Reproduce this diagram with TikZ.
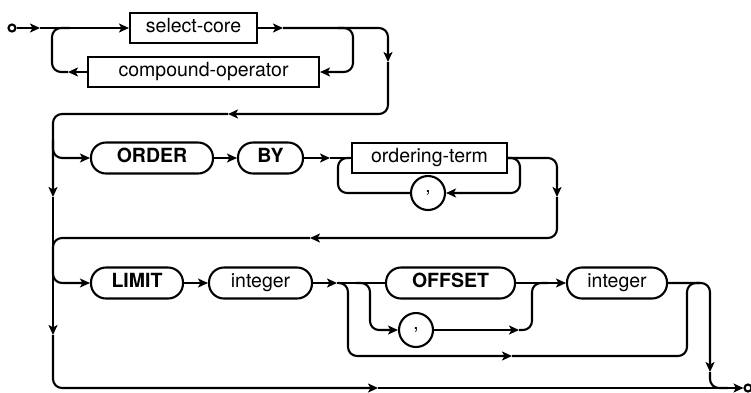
\documentclass[tikz,border=0pt]{standalone}
\usepackage{fontspec}
\setmainfont{TeX Gyre Heros}
\usetikzlibrary{arrows.meta}
\tikzset{
  ln/.style={line width=2.1pt, rounded corners=9pt},
  ar/.style={ln, -{Stealth[length=10pt,width=9pt,inset=2.5pt]}},
  box/.style={draw, line width=2.1pt, inner sep=0pt, minimum height=30pt,
    text height=12pt, text depth=3pt, font=\fontsize{19.5}{22}\selectfont},
  pill/.style={box, rounded corners=15pt, minimum height=31pt, font=\fontsize{19.5}{22}\selectfont\bfseries},
  pillr/.style={box, rounded corners=15pt, minimum height=31pt},
  cbox/.style={draw, circle, line width=2.1pt, inner sep=0pt, minimum size=34pt, font=\fontsize{19}{20}\selectfont},
  term/.style={draw, circle, line width=2.1pt, inner sep=0pt, minimum size=7pt}
}
\begin{document}
\begin{tikzpicture}[x=1pt,y=-1pt]
\useasboundingbox (0,0) rectangle (751,392);
% nodes
\node[term] (start) at (12,28) {};
\node[box, minimum width=127pt] (sc) at (193.5,28) {select-core};
\node[box, minimum width=231pt] (co) at (203.5,72) {compound-operator};
\node[pill, minimum width=122pt] (order) at (152,158) {ORDER};
\node[pill, minimum width=65pt] (by) at (270.5,158) {BY};
\node[box, minimum width=155pt] (ot) at (429.5,158) {ordering-term};
\node[cbox] (c1) at (428,193) {,};
\node[pill, minimum width=92pt] (limit) at (137,283) {LIMIT};
\node[pillr, minimum width=103pt] (int1) at (260.5,283) {integer};
\node[pill, minimum width=129pt] (offset) at (450.5,283) {OFFSET};
\node[pillr, minimum width=100pt] (int2) at (617,283) {integer};
\node[cbox] (c2) at (416,330) {,};
\node[term] (end) at (748,388) {};
% coordinates
\coordinate (a1) at (40,28);
\coordinate (a2) at (283,28);
\coordinate (a3) at (388,62);
\coordinate (a4) at (228,114);
\coordinate (a5) at (53,197);
\coordinate (l1) at (68,72);
\coordinate (b1) at (330,158);
\coordinate (b2) at (557,197);
\coordinate (b3) at (310,238);
\coordinate (d1) at (53,335);
\coordinate (d2) at (378,388);
\coordinate (e1) at (337,283);
\coordinate (e2) at (519,330);
\coordinate (e3) at (512,356);
\coordinate (e4) at (710,372);
% row 1
\draw[ar] (start) -- (a1);
\draw[ar] (a1) -- (sc.west);
\draw[ar] (co.west) -- (l1);
\draw[ln] (l1) -- (52,72) -- (52,28) -- (70,28);
\draw[ar] (sc.east) -- (a2);
\draw[ar] (338,28) -- (353,28) -- (353,72) -- (co.east);
\draw[ar] (a2) -- (388,28) -- (a3);
\draw[ar] (a3) -- (388,114) -- (a4);
\draw[ar] (a4) -- (53,114) -- (a5);
% row 2
\draw[ar] (53,140) |- (order.west);
\draw[ar] (order.east) -- (by.west);
\draw[ar] (by.east) -- (b1);
\draw[ln] (b1) -- (ot.west);
\draw[ln] (c1.west) -- (338,193) -- (338,158) -- (350,158);
\draw[ar] (ot.east) -- (520,158) -- (520,193) -- (c1.east);
\draw[ar] (ot.east) -- (557,158) -- (b2);
\draw[ar] (b2) -- (557,238) -- (b3);
\draw[ln] (b3) -- (53,238) -- (53,262);
% row 3
\draw[ar] (a5) -- (d1);
\draw[ar] (53,262) |- (limit.west);
\draw[ar] (d1) -- (53,388) -- (d2);
\draw[ar] (d2) -- (end.west);
\draw[ar] (limit.east) -- (int1.west);
\draw[ar] (int1.east) -- (e1);
\draw[ln] (e1) -- (offset.west);
\draw[ar] (356,283) -- (370,283) -- (370,330) -- (c2.west);
\draw[ar] (c2.east) -- (e2);
\draw[ln] (e2) -- (532,330) -- (532,283) -- (548,283);
\draw[ar] (offset.east) -- (int2.west);
\draw[ar] (338,283) -- (348,283) -- (348,356) -- (e3);
\draw[ln] (e3) -- (687,356) -- (687,283) -- (700,283);
\draw[ar] (int2.east) -- (710,283) -- (e4);
\draw[ln] (e4) -- (710,388) -- (728,388);
\end{tikzpicture}
\end{document}
